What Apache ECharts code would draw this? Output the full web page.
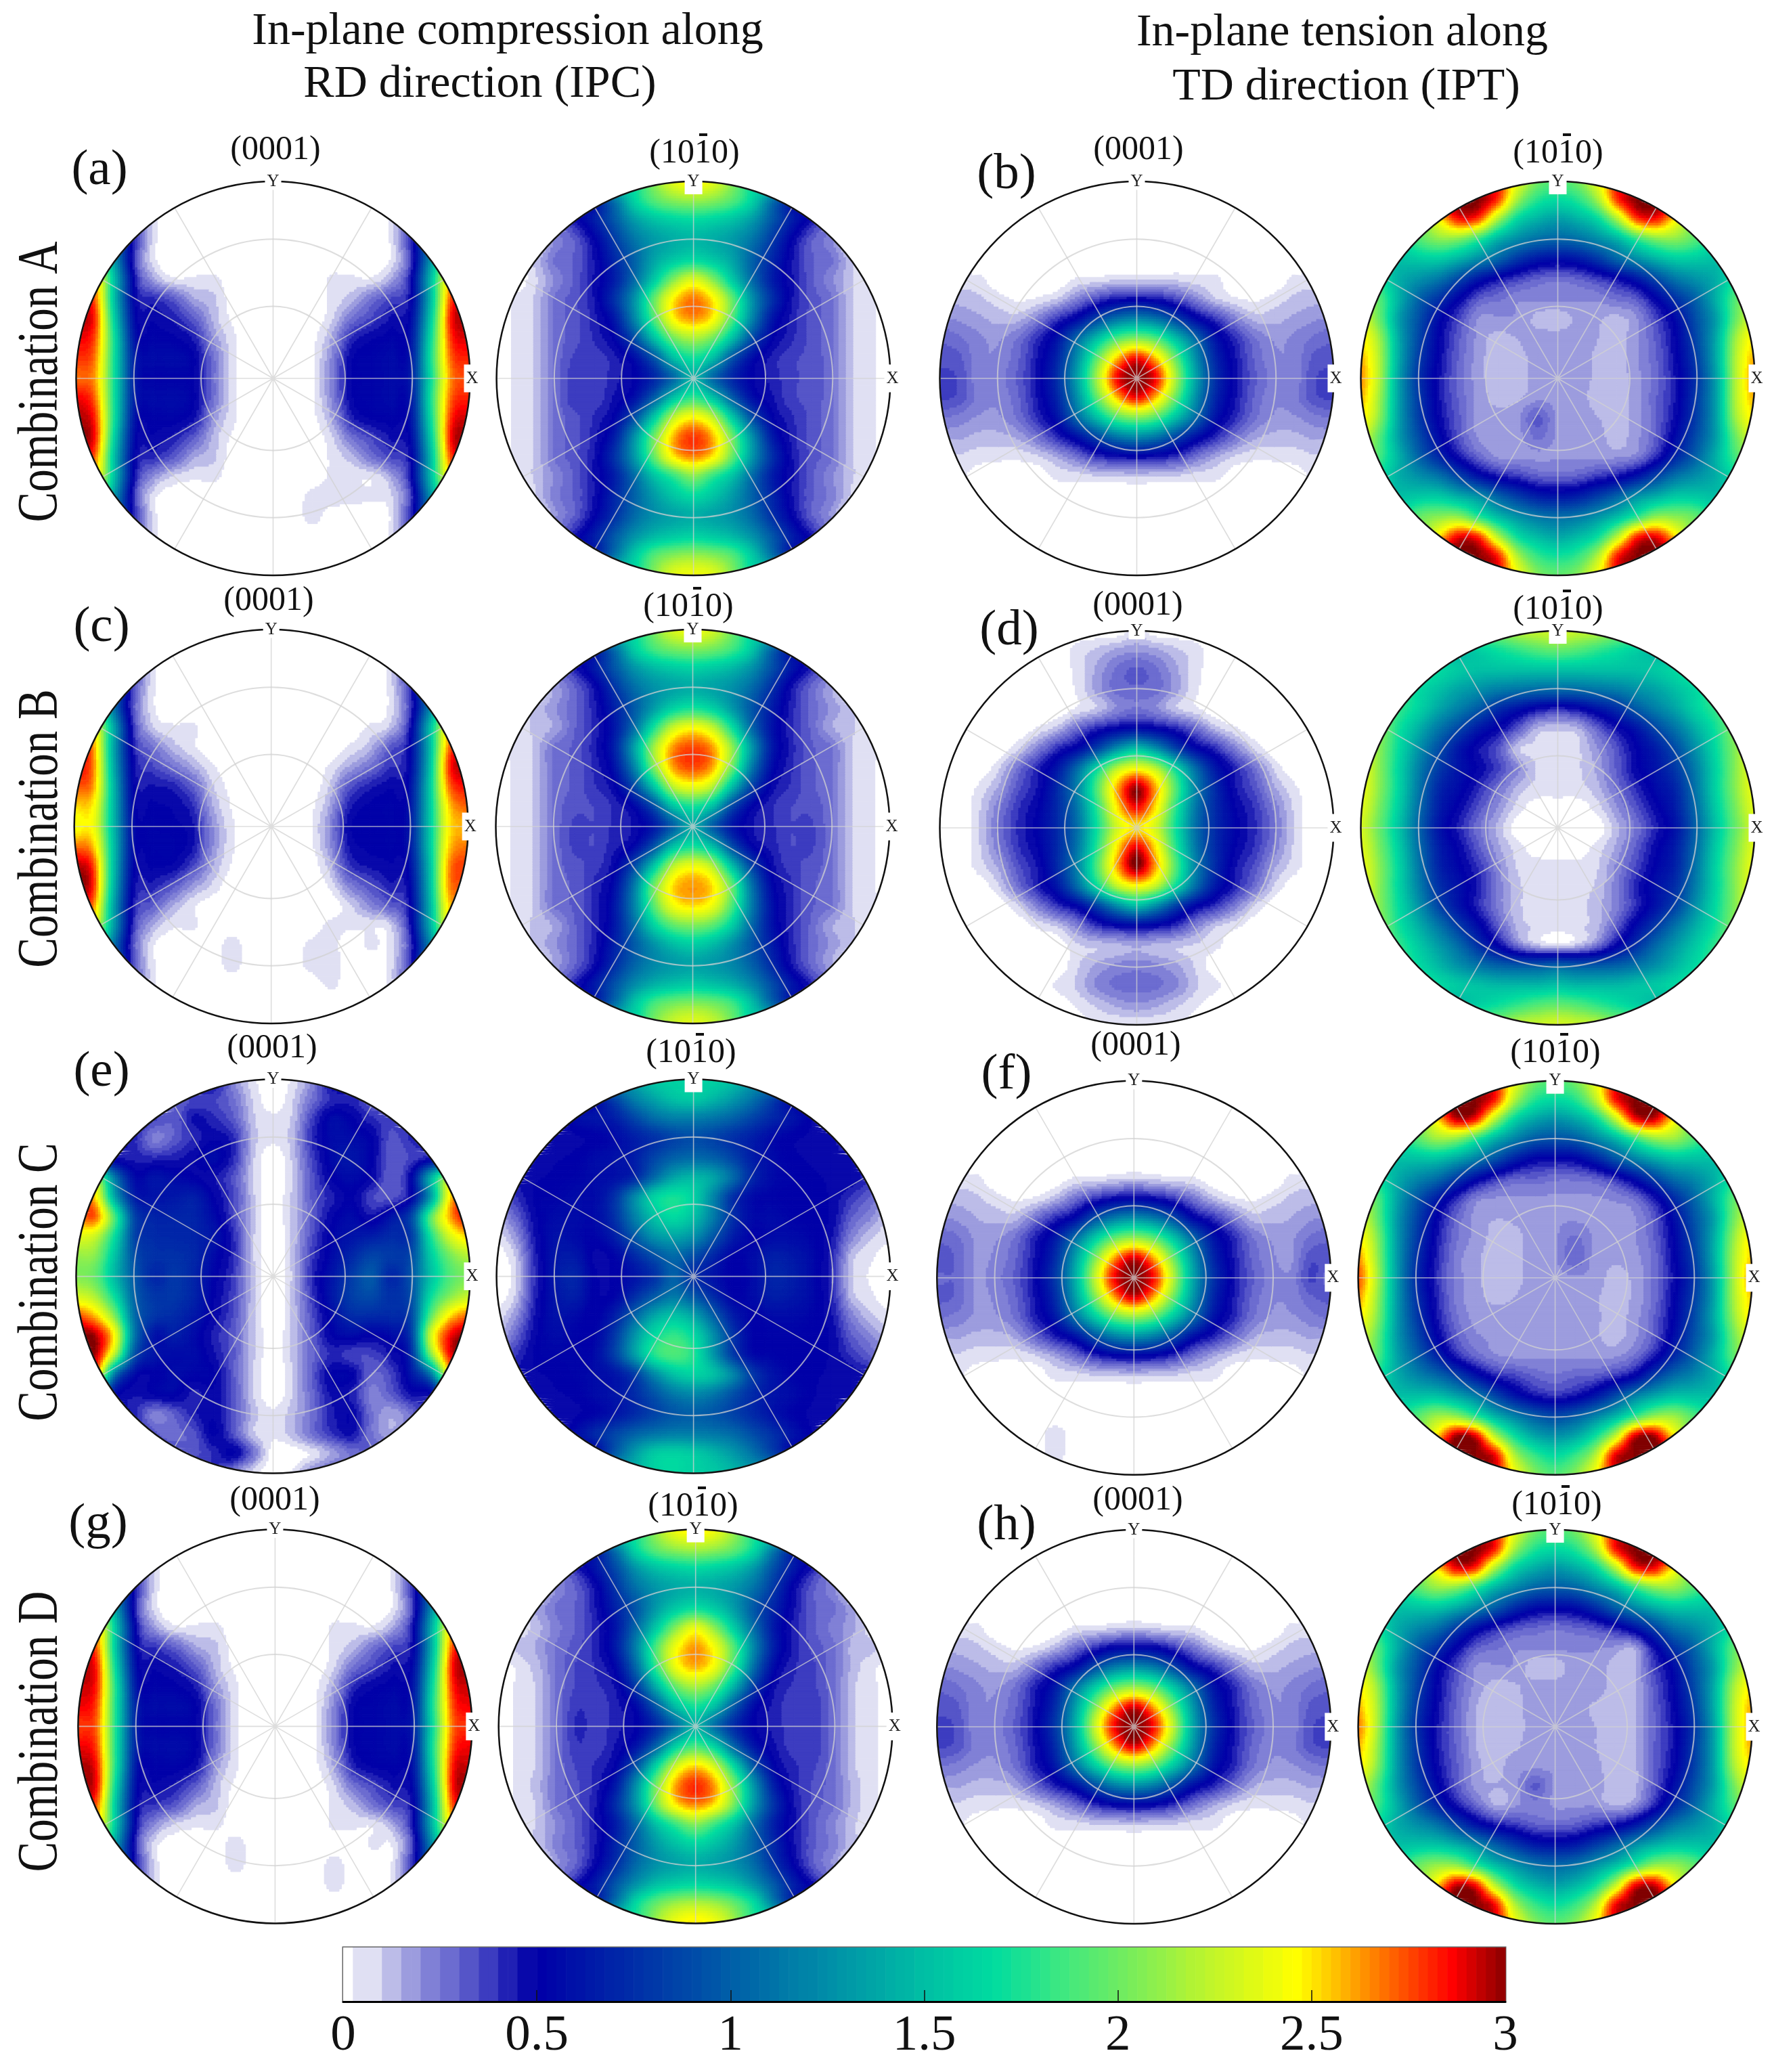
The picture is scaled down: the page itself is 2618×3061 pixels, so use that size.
<!DOCTYPE html>
<html><head><meta charset="utf-8">
<script src="https://cdn.jsdelivr.net/npm/echarts@6/dist/echarts.min.js"></script>
<style>html,body{margin:0;background:#fff}#c{width:2618px;height:3061px}</style></head>
<body><div id="c"></div>
<script>
// Pole-figure intensities, in hundredths of m.r.d.
// Rows run y = 1.0 ... -1.0 in steps of 0.1; each row runs left to right over x in steps of 0.1,
// covering only the nodes needed for the unit circle (half-widths in rowHalf).
const rowHalf = [3,5,7,8,9,9,10,10,10,10,10,10,10,10,10,9,9,8,7,5,3];
const z7=[0,0,0,0,0,0,0], z11=[0,0,0,0,0,0,0,0,0,0,0], z15=[0,0,0,0,0,0,0,0,0,0,0,0,0,0,0],
      z17=[0,0,0,0,0,0,0,0,0,0,0,0,0,0,0,0,0], z19=[0,0,0,0,0,0,0,0,0,0,0,0,0,0,0,0,0,0,0];
const a1 = [z7,z11,
[30,5,0,0,0,0,0,0,0,0,0,0,0,5,30],
[95,40,5,0,0,0,0,0,0,0,0,0,0,0,5,40,95],
[210,125,35,5,0,0,0,0,0,0,0,0,0,0,0,5,35,125,210],
[255,145,45,15,5,5,5,0,0,0,0,0,5,5,5,15,45,145,255],
[290,270,145,50,40,30,15,10,0,0,0,0,0,5,12,25,35,48,145,272,290],
[295,278,155,55,48,42,30,12,2,0,0,0,0,8,25,35,45,55,155,280,295],
[288,272,165,60,52,50,42,18,5,0,0,0,2,15,40,48,52,60,165,275,290],
[280,265,165,65,55,55,50,25,5,0,0,0,3,20,48,52,55,62,170,268,282],
[270,260,165,65,52,52,48,25,5,0,0,0,3,22,48,52,55,65,165,262,275],
[288,268,165,65,55,55,50,25,5,0,0,0,3,20,48,52,55,62,170,268,282],
[296,278,165,60,52,52,45,18,5,0,0,0,2,15,42,50,52,60,165,276,292],
[298,282,155,55,48,42,30,12,2,0,0,0,0,8,25,35,45,55,155,282,296],
[292,268,145,50,40,30,15,10,0,0,0,0,0,5,12,25,35,48,145,272,292],
[250,145,45,18,8,5,5,0,0,0,0,0,5,5,5,15,45,145,250],
[210,125,35,5,0,0,0,0,0,0,0,6,7,6,5,8,35,125,210],
[95,40,5,0,0,0,0,0,0,0,6,0,0,0,5,40,95],
[30,5,0,0,0,0,0,0,0,0,0,0,0,5,30],z11,z7];
const a2 = [[170,205,235,245,235,205,170],
[70,110,160,190,205,210,205,190,160,110,70],
[30,45,65,95,130,150,160,165,160,150,130,95,65,45,30],
[5,20,30,50,80,110,130,140,145,140,130,110,80,50,30,20,5],
[0,10,25,30,45,70,100,135,155,165,155,135,100,70,45,30,25,10,0],
[0,8,20,30,45,65,105,155,205,232,205,155,105,65,45,30,20,10,5],
[0,5,10,25,32,45,75,125,195,248,268,248,195,125,75,45,32,25,10,5,0],
[0,5,10,25,32,42,62,118,188,245,262,245,188,118,62,42,32,25,10,5,0],
[0,5,10,25,32,40,52,88,148,198,215,198,148,88,52,40,32,25,10,5,0],
[0,5,10,25,35,35,42,56,92,148,170,148,92,56,42,35,32,25,10,5,0],
[0,5,10,25,37,35,42,50,70,105,145,105,70,50,42,35,32,25,10,5,0],
[0,5,10,25,38,35,45,58,98,152,180,152,98,58,45,35,32,25,10,5,0],
[0,5,10,25,32,40,52,90,155,222,245,222,155,90,52,40,32,25,10,5,0],
[0,5,10,25,32,42,65,125,198,258,278,258,198,125,65,42,32,25,10,5,0],
[0,5,10,25,32,45,75,128,195,248,265,248,195,128,75,45,32,25,10,5,0],
[5,10,20,30,45,65,105,150,180,205,180,150,105,65,45,30,20,10,5],
[0,8,22,30,45,70,100,130,152,165,152,130,100,70,45,30,22,8,0],
[5,18,30,50,75,105,125,135,140,135,125,105,75,50,30,18,5],
[30,45,65,95,125,145,155,160,155,145,125,95,65,45,30],
[70,110,155,190,205,210,205,190,155,110,70],
[165,205,235,240,235,205,165]];
const b1 = [z7,z11,z15,z17,z19,
[6,5,0,0,0,0,5,6,8,8,8,8,6,5,0,0,0,5,6],
[12,12,10,6,3,5,10,22,35,45,48,45,35,22,10,5,3,6,10,12,12],
[20,18,15,12,12,22,38,55,85,110,120,110,85,55,38,22,12,12,15,18,20],
[28,25,20,18,25,40,60,105,150,190,205,190,150,105,60,40,25,18,20,25,28],
[32,30,20,20,28,45,70,125,195,255,285,255,195,125,70,45,28,20,20,30,32],
[35,33,20,22,30,47,75,135,215,285,300,285,215,135,75,47,30,22,20,33,35],
[35,32,22,20,28,45,70,125,195,255,285,255,195,125,70,45,28,20,22,32,35],
[25,22,18,18,25,40,60,105,150,190,205,190,150,105,60,40,25,18,18,22,25],
[15,15,12,12,15,25,40,58,85,110,120,110,85,58,40,25,15,12,12,15,15],
[8,8,6,5,5,8,15,25,38,45,48,45,38,25,15,8,5,5,6,8,8],
[5,0,0,0,0,5,6,8,8,10,8,8,6,5,0,0,0,0,5],
z19,z17,z15,z11,z7];
const b2 = [[280,235,200,190,200,235,280],
[300,300,275,210,175,165,175,210,275,300,300],
[210,245,280,270,210,160,140,130,140,160,210,270,280,245,210],
[170,190,205,200,175,140,120,105,100,105,120,140,175,200,205,190,170],
[155,150,155,155,140,120,100,75,60,55,60,75,100,120,140,155,155,150,155],
[170,140,125,110,85,60,45,35,28,25,28,35,45,60,85,110,125,140,170],
[220,190,140,100,75,50,30,25,20,20,20,20,20,25,30,50,75,100,140,190,220],
[235,195,130,90,55,35,18,18,18,12,10,15,15,12,18,35,55,90,130,195,235],
[250,210,135,85,50,30,17,12,14,17,17,17,14,12,18,30,50,85,135,210,250],
[260,215,135,80,48,28,16,11,12,16,17,16,13,11,18,28,48,80,135,215,260],
[265,215,130,75,45,27,16,11,12,16,17,16,13,11,17,27,45,75,130,215,265],
[260,210,130,78,45,28,17,12,13,17,17,16,12,11,17,28,45,78,130,215,260],
[250,205,130,80,48,30,17,16,18,30,18,17,14,12,16,28,48,80,130,210,250],
[230,190,130,88,55,32,18,17,17,25,18,18,16,12,17,30,55,88,130,195,235],
[215,185,140,100,70,45,28,18,18,18,18,18,18,18,22,40,70,100,140,185,215],
[165,140,125,110,85,60,45,38,30,28,30,38,45,60,85,110,125,140,165],
[155,150,155,155,140,125,100,80,65,60,65,80,100,125,140,155,155,150,155],
[170,195,205,205,175,145,125,110,105,110,125,145,175,205,205,195,170],
[210,250,285,275,215,165,145,135,145,165,215,275,285,250,210],
[300,300,280,215,180,170,180,215,280,300,300],
[285,240,205,195,205,240,285]];
const c1 = [z7,z11,
[30,5,0,0,0,0,0,0,0,0,0,0,0,5,30],
[95,35,5,0,0,0,0,0,0,0,0,0,0,0,5,35,95],
[200,112,32,5,0,0,0,0,0,0,0,0,0,0,0,5,32,112,200],
[245,140,40,10,5,5,0,0,0,0,0,0,0,0,5,10,40,140,245],
[282,262,138,45,25,12,5,0,0,0,0,0,0,0,5,12,30,48,138,265,290],
[285,265,142,50,35,25,15,5,0,0,0,0,0,5,15,25,38,50,142,275,295],
[272,260,148,52,45,42,30,10,2,0,0,0,0,10,32,42,48,55,148,265,285],
[252,245,148,55,50,48,40,15,3,0,0,0,2,15,42,50,52,58,148,250,272],
[242,240,148,58,52,50,45,20,5,0,0,0,3,20,48,50,52,60,148,245,258],
[268,255,152,58,52,52,45,20,5,0,0,0,2,18,45,50,52,60,148,250,268],
[295,275,152,55,50,48,35,15,3,0,0,0,0,12,38,45,48,55,142,260,278],
[300,280,148,50,42,32,18,8,0,0,0,0,0,5,22,32,42,50,140,260,272],
[285,265,138,45,30,15,5,0,0,0,0,0,0,0,8,20,30,45,135,250,262],
[240,135,40,15,5,5,0,0,0,0,0,0,5,5,5,8,40,132,235],
[195,112,32,5,0,0,0,6,0,0,0,5,6,0,5,5,32,112,195],
[95,35,5,0,0,0,6,0,0,0,6,8,0,0,5,35,95],
[25,5,0,0,0,0,0,0,0,0,5,0,0,5,25],z11,z7];
const c2 = [[165,200,230,240,230,200,165],
[70,105,155,185,200,205,200,185,155,105,70],
[30,42,62,92,125,145,155,160,155,145,125,92,62,42,30],
[5,15,28,45,75,105,125,135,140,135,125,105,75,45,28,15,5],
[5,10,18,28,42,65,95,130,160,172,160,130,95,65,42,28,18,10,5],
[5,10,15,28,40,60,105,170,225,242,225,170,105,60,40,28,15,10,5],
[5,5,10,25,30,42,65,130,210,262,275,262,210,130,65,42,30,25,10,5,5],
[0,5,10,25,30,40,58,115,200,260,275,260,200,115,58,40,30,25,10,5,0],
[0,5,10,25,30,38,48,85,150,220,238,220,150,85,48,38,30,25,10,5,0],
[0,5,10,25,32,34,40,52,88,150,172,150,88,52,40,34,32,25,10,5,0],
[0,5,10,25,35,34,40,45,62,100,140,100,62,45,40,34,35,25,10,5,0],
[0,5,10,25,35,34,42,52,90,148,170,148,90,52,42,34,35,25,10,5,0],
[0,5,10,25,32,36,48,85,150,218,238,218,150,85,48,36,32,25,10,5,0],
[0,5,10,25,30,40,55,110,195,250,262,250,195,110,55,40,30,25,10,5,0],
[0,5,10,25,30,40,60,115,190,240,252,240,190,115,60,40,30,25,10,5,5],
[5,10,15,28,40,60,105,160,195,205,195,160,105,60,40,28,15,10,5],
[5,10,18,28,42,65,95,125,148,158,148,125,95,65,42,28,18,10,5],
[5,15,28,45,72,100,120,130,135,130,120,100,72,45,28,15,5],
[30,42,62,90,120,140,150,155,150,140,120,90,62,42,30],
[70,105,150,185,200,205,200,185,150,105,70],
[160,200,225,235,225,200,160]];
const d1 = [[0,0,0,6,0,0,0],
[0,0,6,10,15,18,15,10,6,0,0],
[0,0,0,0,6,15,25,30,25,15,6,0,0,0,0],
[0,0,0,0,0,5,16,26,28,26,16,5,0,0,0,0,0],
[0,0,0,0,0,0,5,10,20,25,20,10,5,0,0,0,0,0,0],
[0,0,0,0,5,12,28,42,52,58,52,42,28,12,5,0,0,0,0],
[0,0,0,0,8,22,40,55,85,125,150,125,85,55,40,22,8,0,0,0,0],
[0,0,0,8,25,42,62,105,165,220,240,220,165,105,62,42,25,8,0,0,0],
[0,0,5,15,32,45,72,118,190,258,298,258,190,118,72,45,32,15,5,0,0],
[0,0,8,22,38,50,72,112,178,248,285,248,178,112,72,50,38,22,8,0,0],
[0,0,8,25,40,52,72,108,170,228,250,228,170,108,72,52,40,25,8,0,0],
[0,0,8,22,38,50,72,112,178,248,288,248,178,112,72,50,38,22,8,0,0],
[0,0,6,15,32,45,72,118,190,258,300,258,190,118,72,45,32,15,6,0,0],
[0,0,0,8,25,42,62,105,165,220,240,220,165,105,62,42,25,8,0,0,0],
[0,0,0,0,8,22,38,52,82,120,145,120,82,52,38,22,8,0,0,0,0],
[0,0,0,0,5,10,22,38,48,52,48,38,22,10,5,0,0,0,0],
[0,0,0,0,0,0,8,10,12,15,12,10,8,5,0,0,0,0,0],
[0,0,0,0,0,8,15,20,22,20,15,8,0,0,0,0,0],
[0,0,0,5,10,20,25,26,25,20,10,5,0,0,0],
[0,0,5,10,15,18,15,10,5,0,0],
[0,5,5,5,5,5,0]];
const d2 = [[205,220,225,230,225,220,205],
[150,160,170,180,190,195,190,180,170,160,150],
[175,165,155,150,150,150,150,150,150,150,150,150,155,165,175],
[180,165,150,135,125,115,110,105,105,105,110,115,125,135,150,165,180],
[195,180,160,135,115,95,72,58,45,40,45,58,72,95,115,135,160,180,195],
[205,170,140,110,85,62,48,30,12,10,12,28,45,60,85,110,140,170,205],
[240,205,165,125,90,62,45,32,10,8,8,8,18,32,50,65,90,125,165,205,240],
[240,205,160,115,80,60,48,35,20,8,8,8,15,30,48,60,80,115,160,205,240],
[240,205,160,110,70,55,40,25,12,7,7,7,12,25,40,55,70,110,160,205,240],
[235,200,155,105,65,48,32,18,6,0,0,0,6,18,32,48,65,105,155,200,235],
[230,195,150,100,60,42,25,12,0,0,0,0,0,12,25,42,60,100,150,195,230],
[235,200,155,105,65,48,30,15,6,0,0,0,6,15,30,48,65,105,155,200,235],
[240,205,160,110,68,52,38,20,8,7,6,6,8,20,35,52,68,110,160,205,240],
[240,205,160,115,75,58,42,22,10,7,7,7,10,22,42,58,75,115,160,205,240],
[240,205,165,125,85,60,40,22,10,7,7,7,12,22,40,60,85,125,165,205,240],
[205,170,140,110,80,55,30,12,8,6,8,12,30,55,80,110,140,170,205],
[195,180,155,130,105,75,50,25,12,8,12,25,50,75,105,130,155,180,195],
[180,165,145,125,110,100,95,95,100,95,95,100,110,125,145,165,180],
[175,165,155,150,145,145,145,150,145,145,145,150,155,165,175],
[150,160,170,180,190,195,190,180,170,160,150],
[205,220,225,230,225,220,205]];
const e1 = [[50,20,5,0,5,20,50],
[30,35,35,25,8,0,8,25,40,42,30],
[45,35,30,45,40,30,10,5,10,35,55,50,40,35,40],
[55,40,22,30,40,48,40,12,5,12,40,55,55,50,32,40,50],
[60,45,42,40,42,48,55,40,10,0,10,35,55,60,50,30,35,45,60],
[210,110,55,60,55,50,45,32,9,0,9,32,50,55,48,30,50,140,220],
[280,250,135,65,60,62,65,50,35,10,0,10,30,42,50,35,32,50,130,250,290],
[265,270,185,85,68,68,68,55,35,10,0,10,30,48,55,45,60,85,190,260,290],
[235,225,165,85,72,70,68,60,40,10,0,10,33,52,60,65,72,80,170,230,255],
[210,205,150,90,75,75,70,55,40,10,0,10,37,55,70,85,80,88,155,200,220],
[205,195,145,95,70,78,68,52,37,10,0,10,40,60,80,95,70,92,150,190,205],
[230,215,165,100,78,78,68,50,35,10,0,10,37,62,82,88,75,90,165,205,225],
[275,255,200,105,78,72,62,48,33,10,0,10,33,55,72,72,72,85,190,250,270],
[300,295,240,110,60,65,55,42,30,10,0,10,30,50,55,50,55,80,225,285,300],
[300,295,215,90,60,55,55,45,30,10,0,10,27,40,35,35,45,70,200,285,300],
[260,110,55,50,55,52,50,30,9,0,9,30,50,50,28,35,60,110,240],
[110,55,45,50,52,42,48,32,9,0,9,27,45,42,22,30,45,50,100],
[50,40,22,30,42,48,32,12,5,12,25,42,48,25,15,25,45],
[45,30,28,32,50,32,10,5,12,25,38,45,25,15,25],
[32,32,40,50,25,0,0,5,15,25,30],
[40,20,5,0,5,20,30]];
const e2 = [[135,155,160,160,160,150,130],
[60,85,115,135,150,155,145,130,110,85,60],
[40,55,60,65,85,105,115,115,110,100,85,70,60,50,45],
[40,45,48,50,55,65,75,85,90,85,75,65,55,50,48,45,40],
[40,45,48,50,55,58,65,85,100,105,100,85,65,55,50,48,45,45,40],
[45,48,50,52,55,58,70,105,135,145,135,105,70,55,52,50,48,48,40],
[25,38,50,52,55,55,75,120,160,172,160,120,75,55,52,50,50,48,38,28,20],
[12,28,48,55,55,55,75,115,150,165,150,115,75,55,55,52,50,48,30,20,8],
[5,18,45,58,55,52,65,95,125,135,125,95,65,52,55,55,52,45,22,10,5],
[0,10,42,60,62,48,52,70,90,105,90,70,52,55,65,62,55,42,12,5,0],
[0,8,40,62,68,50,50,60,75,100,75,60,50,55,68,65,55,40,10,3,0],
[0,10,42,60,65,50,52,72,95,112,95,72,52,55,65,62,55,42,12,5,0],
[5,18,45,58,55,50,65,100,135,150,135,100,65,52,55,55,52,45,22,10,5],
[10,28,48,55,52,52,78,125,165,180,165,125,78,52,52,52,50,48,30,20,10],
[22,38,50,52,52,55,82,130,175,188,175,130,82,55,52,50,50,48,38,28,20],
[45,48,50,52,55,60,80,120,150,160,150,120,80,60,52,50,48,48,42],
[40,45,48,50,55,60,72,92,112,120,112,92,72,60,55,50,45,45,40],
[40,45,48,52,60,72,85,95,100,95,85,72,60,52,48,45,40],
[40,55,70,85,100,110,115,115,112,105,90,75,60,50,45],
[60,95,130,155,160,155,145,130,110,85,60],
[140,160,165,160,155,145,130]];
const f1 = [z7,z11,z15,z17,z19,
[6,5,0,0,0,0,5,6,8,10,8,6,5,0,0,0,0,5,6],
[12,12,10,6,3,5,12,25,38,48,52,48,38,25,12,5,3,6,10,12,12],
[20,18,14,12,12,25,40,55,90,115,125,115,90,55,40,25,12,12,14,18,20],
[28,25,18,18,25,42,62,105,155,195,210,195,155,105,62,42,25,18,18,25,28],
[32,28,18,20,28,45,72,130,200,260,290,260,200,130,72,45,28,20,18,32,32],
[28,28,18,22,30,48,78,138,220,285,300,285,220,138,78,48,30,22,20,35,25],
[30,28,18,20,28,45,72,130,200,260,290,260,200,130,72,45,28,20,20,28,30],
[25,22,18,18,25,42,62,108,155,195,210,195,155,108,62,42,25,18,18,22,25],
[15,15,12,12,15,28,42,58,90,115,125,115,90,58,42,28,15,12,12,15,15],
[8,8,6,5,5,8,15,25,38,48,50,48,38,25,15,8,5,5,6,8,8],
[5,0,0,0,0,5,6,8,8,10,8,8,6,5,0,0,0,0,5],
z19,z17,
[0,0,0,7,0,0,0,0,0,0,0,0,0,0,0],
[0,6,0,0,0,0,0,0,0,0,0],z7];
const f2 = [[280,235,200,190,200,235,280],
[300,300,280,215,175,165,175,215,280,300,300],
[210,250,290,280,215,160,135,125,135,160,215,280,290,250,210],
[170,190,210,205,175,140,115,95,90,95,115,140,175,205,210,190,170],
[155,150,150,150,135,115,90,65,50,48,50,65,90,115,135,150,150,150,155],
[170,140,120,105,80,55,38,28,28,25,25,28,38,55,80,105,120,140,170],
[220,190,135,95,65,40,22,18,18,18,18,18,18,20,25,42,70,100,140,190,220],
[235,195,130,85,50,28,17,14,15,18,18,18,17,17,18,30,55,90,130,195,235],
[250,205,130,80,45,25,17,12,12,17,18,25,18,17,18,28,50,85,135,205,250],
[265,210,130,75,42,22,15,11,12,17,18,28,17,15,17,25,48,80,135,210,255],
[275,215,130,72,40,22,15,11,12,17,17,18,17,12,15,25,45,75,130,210,265],
[265,210,130,75,42,22,16,12,14,17,17,17,15,11,15,25,48,80,130,210,255],
[250,205,130,80,45,25,17,17,17,17,17,17,15,12,16,28,50,85,135,205,250],
[235,195,130,88,52,30,20,18,17,17,17,17,15,12,17,30,55,90,130,195,235],
[220,190,135,100,70,42,28,20,18,18,18,18,18,18,25,42,70,100,140,190,220],
[170,140,120,105,85,60,42,35,28,25,28,30,38,50,80,105,120,140,170],
[155,150,150,150,135,115,85,60,45,40,45,60,85,115,135,150,150,150,155],
[170,190,210,205,175,140,115,95,85,95,115,140,175,205,210,190,170],
[210,250,295,285,215,165,135,125,135,165,215,285,295,250,210],
[300,300,285,215,180,165,180,215,285,300,300],
[285,240,205,190,205,240,285]];
const g1 = [z7,z11,
[30,5,0,0,0,0,0,0,0,0,0,0,0,5,30],
[95,40,5,0,0,0,0,0,0,0,0,0,0,0,5,40,95],
[210,125,35,5,0,0,0,0,0,0,0,0,0,0,0,5,35,125,210],
[255,145,45,15,5,5,5,0,0,0,0,0,5,5,5,15,45,145,255],
[290,268,145,50,38,28,15,10,0,0,0,0,0,5,12,25,35,48,145,272,290],
[295,278,155,55,48,42,30,12,2,0,0,0,0,8,25,35,45,55,155,282,295],
[292,278,165,60,52,50,42,18,5,0,0,0,2,15,40,48,52,60,165,278,292],
[288,272,165,65,55,55,50,25,5,0,0,0,3,20,48,52,55,62,170,272,288],
[278,268,165,65,52,52,48,25,5,0,0,0,3,22,48,52,55,65,165,268,278],
[288,272,165,65,55,55,50,25,5,0,0,0,3,20,48,52,55,62,170,272,288],
[296,280,165,60,52,52,45,18,5,0,0,0,2,15,42,50,52,60,165,280,292],
[296,282,155,55,48,42,30,12,2,0,0,0,0,8,25,35,45,55,155,282,296],
[288,268,145,50,38,30,15,10,0,0,0,0,0,5,12,25,35,48,145,272,288],
[250,145,45,18,8,5,5,0,0,0,0,0,5,5,5,15,45,145,250],
[210,125,35,5,0,0,0,6,0,0,0,0,0,0,5,5,35,125,210],
[95,40,5,0,0,0,6,0,0,0,0,6,0,0,5,40,95],
[30,5,0,0,0,0,0,0,0,0,6,0,0,5,30],z11,z7];
const g2 = [[175,210,240,250,240,210,175],
[75,115,165,195,210,215,210,195,165,115,75],
[28,42,62,90,128,150,160,165,160,150,128,90,62,42,28],
[5,20,30,48,78,108,128,138,142,138,128,108,78,48,30,20,5],
[5,15,25,30,45,68,95,130,155,168,155,130,95,68,45,30,25,15,5],
[5,12,22,30,42,62,105,155,205,236,205,155,105,62,42,30,22,15,5],
[5,10,15,25,32,42,65,118,188,240,262,240,188,118,65,42,32,25,12,10,5],
[0,5,12,25,35,40,55,105,180,238,258,238,180,105,55,40,35,25,12,5,0],
[0,5,10,25,35,38,46,80,140,195,215,195,140,80,46,38,35,25,10,5,0],
[0,5,10,25,38,36,42,55,95,148,172,148,95,55,42,36,38,25,10,5,0],
[0,5,10,25,40,36,42,50,72,108,145,108,72,50,42,36,38,25,10,5,0],
[0,5,10,25,38,36,45,60,100,158,185,158,100,60,45,36,38,25,10,5,0],
[0,5,10,25,35,40,52,92,160,225,250,225,160,92,52,40,35,25,10,5,0],
[0,5,12,25,33,42,65,125,200,260,280,260,200,125,65,42,33,25,12,5,0],
[0,5,10,25,32,45,75,128,198,248,265,248,198,128,75,45,32,25,12,5,0],
[5,10,20,30,45,65,105,150,182,205,182,150,105,65,45,30,20,10,5],
[5,10,22,30,45,70,100,130,150,162,150,130,100,70,45,30,22,10,5],
[5,18,30,50,75,105,125,135,140,135,125,105,75,50,30,18,5],
[30,45,65,95,125,148,158,163,158,148,125,95,65,45,30],
[75,115,165,195,212,218,212,195,165,115,75],
[175,212,240,250,240,212,175]];
const h1 = [z7,z11,z15,z17,z19,
[6,5,0,0,0,0,5,6,8,10,8,6,5,0,0,0,0,5,6],
[12,12,10,6,3,5,12,25,38,50,52,50,38,25,12,5,3,6,10,12,12],
[20,18,15,12,12,25,40,55,88,115,125,115,88,55,40,25,12,12,15,18,20],
[28,25,20,18,25,42,62,108,155,195,210,195,155,108,62,42,25,18,20,25,28],
[32,30,20,20,28,45,72,130,200,260,290,260,200,130,72,45,28,20,20,30,32],
[35,33,20,22,30,48,78,138,222,285,300,285,222,138,78,48,30,22,20,33,35],
[35,32,22,20,28,45,72,130,200,260,290,260,200,130,72,45,28,20,22,32,35],
[25,22,18,18,25,42,62,108,155,195,210,195,155,108,62,42,25,18,18,22,25],
[15,15,12,12,15,28,42,58,88,115,125,115,88,58,42,28,15,12,12,15,15],
[8,8,6,5,5,8,15,25,38,48,50,48,38,25,15,8,5,5,6,8,8],
[5,0,0,0,0,5,6,8,8,10,8,8,6,5,0,0,0,0,5],
z19,z17,z15,z11,z7];
const h2 = [[280,235,200,190,200,235,280],
[300,300,280,212,175,165,175,212,280,300,300],
[210,248,285,275,212,160,138,128,138,160,212,275,285,248,210],
[170,190,208,202,175,140,118,100,95,100,118,140,175,202,208,190,170],
[155,150,152,152,138,118,95,70,55,52,55,70,95,118,138,152,152,150,155],
[170,140,122,108,82,58,42,32,28,25,28,32,42,58,82,108,122,140,170],
[220,190,140,100,75,50,30,25,20,20,20,20,20,18,15,45,75,100,140,190,220],
[235,195,130,90,55,35,18,18,18,10,10,17,17,12,12,35,55,90,130,195,235],
[250,210,135,85,50,30,17,12,13,17,17,17,17,12,12,30,50,85,135,210,250],
[260,215,135,80,48,28,14,11,12,17,17,17,13,11,12,28,48,80,135,215,260],
[268,215,130,75,45,27,14,11,12,16,17,16,14,11,12,27,45,75,130,215,262],
[260,210,130,78,45,28,14,12,13,17,17,16,14,11,12,28,45,78,130,215,260],
[250,205,130,80,48,30,16,12,17,17,18,17,15,12,12,28,48,80,130,210,250],
[230,190,130,88,55,32,17,14,17,30,18,18,16,12,12,30,55,88,130,195,235],
[215,185,140,100,70,45,28,14,18,22,18,18,18,14,18,40,70,100,140,185,215],
[165,140,125,110,85,60,45,38,30,28,30,38,45,60,85,110,125,140,165],
[155,150,152,152,140,122,98,78,62,58,62,78,98,122,140,152,152,150,155],
[170,195,208,205,175,145,125,108,102,108,125,145,175,205,208,195,170],
[210,250,290,280,215,165,142,132,142,165,215,280,290,250,210],
[300,300,282,215,180,168,180,215,282,300,300],
[285,240,205,192,205,240,285]];

const panelData = [a1,a2,b1,b2,c1,c2,d1,d2,e1,e2,f1,f2,g1,g2,h1,h2];
const panelCentres = [[403.5,559],[1024.6,559],[1679.5,559],[2301.5,559],[400.7,1221],[1023.5,1221],[1679.5,1223],[2301.5,1223],
  [403.5,1885.6],[1024.6,1885.6],[1675.3,1887.8],[2297.6,1887.8],[406.4,2550.4],[1027.7,2550.4],[1675.3,2551],[2297.6,2551]];
const polePos = [[407,222],[1026,227],[1682,222],[2302,227],[397,888],[1017,897],[1681,895],[2302,901],
  [402,1549],[1021,1556],[1678,1545],[2298,1556],[406,2217],[1024,2226],[1681,2217],[2300,2224]];
const poleNames = ['(0001)','(1010)'];
const panelLetters = [['(a)',147,252],['(b)',1487,258],['(c)',150,927],['(d)',1491,932],['(e)',150,1584],['(f)',1487,1588],['(g)',145,2252],['(h)',1487,2254]];
const rowLabels = [['Combination A',62,564],['Combination B',62,1224],['Combination C',62,1894],['Combination D',62,2558]];
const headers = [['In-plane compression along',750,47],['RD direction (IPC)',709,125],['In-plane tension along',1983,49],['TD direction (IPT)',1989,129]];
const ringValues = [0.366,0.707,1];
const colorTicks = [0,0.5,1,1.5,2,2.5,3];

panelData.forEach((p,k)=>{ if(p.length!==21) console.error('rows',k,p.length);
  p.forEach((row,i)=>{ if(row.length!==2*rowHalf[i]+1) console.error('panel',k,'row',i,row.length); }); });

// Colour scale: stepped below 0.5, continuous above.
const lowBands = ['#ffffff','#e0e0f3','#bcbce8','#9c9cde','#8080d6','#6c6cd0','#5555c8','#3c3cc0','#2020b4','#0808aa'];
const stopValues = [0.5,0.75,1,1.25,1.5,1.67,1.85,2,2.2,2.45,2.55,2.7,2.85,3];
const stopColors = ['#0000a8','#0030a8','#0060a8','#0090a8','#00c0a4','#00dca0','#40e880','#70ec60','#b8f430','#ffff00','#ffc000','#ff6000','#ff0000','#800000'];
const cache = {};
const LOW_OFFSET = 0.012;
function shade(v){
  if(v<0.5-LOW_OFFSET) return lowBands[Math.max(0,Math.floor((v+LOW_OFFSET)/0.05))];
  if(v<0.5) v=0.5;
  if(v>=2.45) v=Math.floor(v/0.025)*0.025;
  v=Math.min(v,3);
  const key=Math.round(v*100);
  if(cache[key]) return cache[key];
  let i=0; while(i<stopValues.length-2 && v>stopValues[i+1]) i++;
  const t=(v-stopValues[i])/(stopValues[i+1]-stopValues[i]);
  return cache[key]=echarts.color.lerp(Math.max(0,Math.min(1,t)),[stopColors[i],stopColors[i+1]]);
}
function node(p,xi,yi){ // xi in -10..10 (tenths of x), yi row index 0..20
  yi=Math.max(0,Math.min(20,yi)); const h=rowHalf[yi];
  xi=Math.max(-h,Math.min(h,xi)); return p[yi][xi+h];
}
function cr(a,b,c,d,t){return b+0.5*t*(c-a+t*(2*a-5*b+4*c-d+t*(3*(b-c)+d-a)));}
function sample(p,xi,yi,fx,fy){
  const row=k=>cr(node(p,xi-1,k),node(p,xi,k),node(p,xi+1,k),node(p,xi+2,k),fx);
  return Math.max(0,Math.min(300,cr(row(yi-1),row(yi),row(yi+1),row(yi+2),fy)))/100;
}
function toPolar(x,y){
  const r=Math.min(1,Math.hypot(x,y));
  let t=Math.atan2(y,x)*180/Math.PI; if(t<0)t+=360;
  return [r,t];
}
function cellsOf(){
  const out=[];
  for(let xi=-10;xi<10;xi++)for(let yi=0;yi<20;yi++){
    const x=(xi+0.5)/10,y=1-(yi+0.5)/10;
    if(Math.hypot(x,y)>1.08) continue;
    const pol=toPolar(x,y);
    out.push([pol[0],pol[1],xi,yi]);
  }
  return out;
}
const NS=8;
function renderFor(p){
  return function(params,api){
    const xi=api.value(2),yi=api.value(3);
    const kids=[];
    for(let m=0;m<NS;m++){
      const fy=(m+.5)/NS;
      const yTop=1-(yi+m/NS)/10,yBot=1-(yi+(m+1)/NS)/10;
      let start=0,cur=null;
      for(let n=0;n<=NS;n++){
        let col=null;
        if(n<NS){
          const x=(xi+(n+.5)/NS)/10,y=(yTop+yBot)/2;
          if(Math.hypot(x,y)<=1.01){
            const v=sample(p,xi,yi,(n+.5)/NS,fy);
            if(v>=0.05-LOW_OFFSET) col=shade(v);
          }
        }
        if(col!==cur){
          if(cur){
            const xa=(xi+start/NS)/10,xb=(xi+n/NS)/10;
            const pts=[[xa,yTop],[xb,yTop],[xb,yBot],[xa,yBot]].map(q=>api.coord(toPolar(q[0],q[1])));
            kids.push({type:'polygon',silent:true,shape:{points:pts},style:{fill:cur,stroke:cur,lineWidth:1}});
          }
          cur=col;start=n;
        }
      }
    }
    return {type:'group',children:kids};
  };
}

const font='"Liberation Serif","Times New Roman",serif';
const polar=[],angleAxis=[],radiusAxis=[],series=[],graphic=[];
const cellList=cellsOf();
panelData.forEach((p,i)=>{
  polar.push({center:panelCentres[i],radius:291});
  angleAxis.push({polarIndex:i,type:'value',min:0,max:360,interval:30,startAngle:0,clockwise:false,z:5,
    axisLine:{show:true,lineStyle:{color:'#111',width:2.5}},axisTick:{show:false},axisLabel:{show:false},
    splitLine:{show:true,lineStyle:{color:'rgba(210,210,210,0.75)',width:1.6}}});
  radiusAxis.push({polarIndex:i,type:'value',min:0,max:1,z:4,axisLine:{show:false},
    axisTick:{show:false,customValues:ringValues},axisLabel:{show:false},
    splitLine:{show:true,lineStyle:{color:'rgba(210,210,210,0.75)',width:2}}});
  series.push({type:'custom',coordinateSystem:'polar',polarIndex:i,data:cellList,renderItem:renderFor(p),
    encode:{radius:0,angle:1},animation:false,silent:true,progressive:0,z:2,clip:false});
  const [cx,cy]=panelCentres[i];
  graphic.push({type:'text',z:50,x:cx,y:cy-291,style:{text:'Y',font:'25px '+font,fill:'#222',align:'center',verticalAlign:'middle',backgroundColor:'#fff',padding:i%2?[3,4,10,4]:[0,3,0,3]}});
  graphic.push({type:'text',z:50,x:cx+294,y:cy,style:{text:'X',font:'25px '+font,fill:'#222',align:'center',verticalAlign:'middle',backgroundColor:'#fff',padding:[8,3,8,3]}});
  const [lx,ly]=polePos[i];
  graphic.push({type:'text',z:50,x:lx,y:ly,style:{text:poleNames[i%2],font:'50px '+font,fill:'#111',align:'center',verticalAlign:'middle'}});
  if(i%2) graphic.push({type:'rect',z:50,shape:{x:lx+7,y:ly-30,width:12,height:4},style:{fill:'#111'}});
});
panelLetters.forEach(t=>graphic.push({type:'text',z:50,x:t[1],y:t[2],style:{text:t[0],font:'75px '+font,fill:'#111',align:'center',verticalAlign:'middle'}}));
rowLabels.forEach(t=>graphic.push({type:'text',z:50,x:t[1],y:t[2],rotation:Math.PI/2,scaleY:1.25,style:{text:t[0],font:'67px '+font,fill:'#111',align:'center',verticalAlign:'middle'}}));
headers.forEach(t=>graphic.push({type:'text',z:50,x:t[1],y:t[2],style:{text:t[0],font:'68px '+font,fill:'#111',align:'center',verticalAlign:'middle'}}));

// Colour bar on a value axis 0..3
const barLevels=[]; for(let k=0;k<120;k++) barLevels.push([k*0.025,(k+1)*0.025]);
series.push({type:'custom',coordinateSystem:'cartesian2d',xAxisIndex:0,yAxisIndex:0,data:barLevels,encode:{x:[0,1]},animation:false,silent:true,z:2,
  renderItem(params,api){
    const lo=api.value(0),hi=api.value(1);
    const a=api.coord([lo,0]),b=api.coord([hi,1]);
    const col=lo<0.05?lowBands[lo<0.025?0:1]:shade(lo+0.001);
    return {type:'rect',shape:{x:a[0],y:b[1],width:b[0]-a[0]+0.6,height:a[1]-b[1]},style:{fill:col}};
  }});

const chart=echarts.init(document.getElementById('c'),null,{renderer:'canvas',width:2618,height:3061});
chart.setOption({
  animation:false,backgroundColor:'#fff',
  polar,angleAxis,radiusAxis,series,graphic:{elements:graphic},
  grid:{left:507,top:2877,width:1717,height:80,show:true,borderColor:'#666',borderWidth:3,containLabel:false},
  xAxis:{type:'value',min:0,max:3,interval:0.5,z:5,axisLine:{show:true,lineStyle:{color:'#000',width:3}},
    axisTick:{show:true,inside:true,length:17,lineStyle:{color:'#111',width:1.5},customValues:colorTicks.slice(1,6)},
    axisLabel:{margin:14,fontSize:75,fontFamily:font,color:'#111',customValues:colorTicks,hideOverlap:false,showMinLabel:true,showMaxLabel:true},
    splitLine:{show:false}},
  yAxis:{type:'value',min:0,max:1,show:false,splitLine:{show:false}}
});
</script></body></html>
